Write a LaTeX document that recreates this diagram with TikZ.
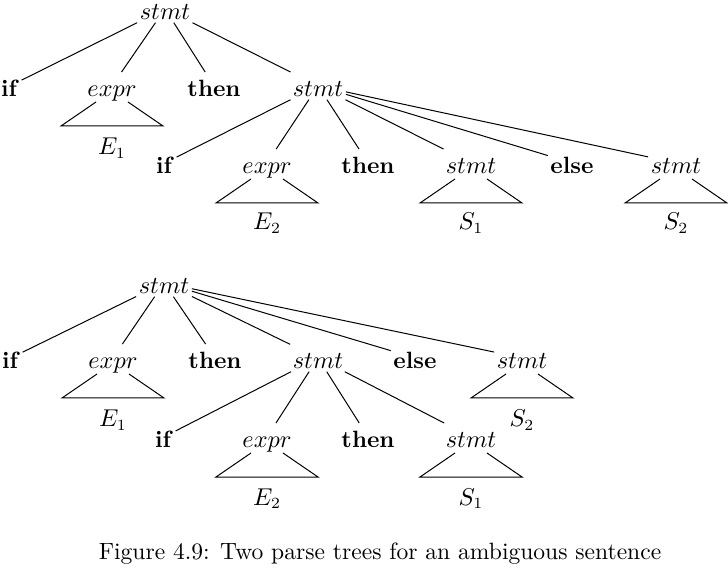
\documentclass[tikz,border=0pt]{standalone}
\usetikzlibrary{calc}
\newcommand\mytri[1]{\draw ($(#1.base)+(-16,5)$) -- ($(#1.base)+(-51,29)$) -- ($(#1.base)+(51,29)$) -- ($(#1.base)+(16,5)$);}
\begin{document}
\begin{tikzpicture}[x=0.45pt,y=-0.45pt, line width=0.45pt,
  every node/.style={font=\fontsize{10.6pt}{13pt}\selectfont},
  lab/.style={anchor=base, inner xsep=1pt, inner ysep=1pt, text height=10pt, text depth=0pt},
  sub/.style={anchor=base, inner sep=1pt}]
\useasboundingbox (0,0) rectangle (728,573);
% ---------- tree 1 ----------
\node[lab] (r1) at (165,20) {$stmt$};
\node[lab] (a1) at (10,97) {\textbf{if}};
\node[lab] (b1) at (112,97) {$expr$};
\node[lab] (c1) at (214,97) {\textbf{then}};
\node[lab] (d1) at (318,97) {$stmt$};
\node[lab] (a2) at (165,174) {\textbf{if}};
\node[lab] (b2) at (267,174) {$expr$};
\node[lab] (c2) at (368,174) {\textbf{then}};
\node[lab] (d2) at (471,174) {$stmt$};
\node[lab] (e2) at (572,174) {\textbf{else}};
\node[lab] (f2) at (676,174) {$stmt$};
\foreach \c in {a1,b1,c1,d1} \draw (r1) -- (\c);
\foreach \c in {a2,b2,c2,d2,e2,f2} \draw (d1) -- (\c);
\mytri{b1} \mytri{b2} \mytri{d2} \mytri{f2}
\node[sub] (tb1) at ($(b1.base)+(0,58)$) {$E_1$};
\node[sub] (tb2) at ($(b2.base)+(0,56)$) {$E_2$};
\node[sub] (td2) at ($(d2.base)+(0,56)$) {$S_1$};
\node[sub] (tf2) at ($(f2.base)+(0,56)$) {$S_2$};
% ---------- tree 2 ----------
\node[lab] (R) at (164,294) {$stmt$};
\node[lab] (A) at (11,369) {\textbf{if}};
\node[lab] (B) at (113,369) {$expr$};
\node[lab] (C) at (215,369) {\textbf{then}};
\node[lab] (D) at (318,369) {$stmt$};
\node[lab] (E) at (415,369) {\textbf{else}};
\node[lab] (F) at (522,369) {$stmt$};
\node[lab] (G) at (164,448) {\textbf{if}};
\node[lab] (H) at (267,448) {$expr$};
\node[lab] (I) at (368,448) {\textbf{then}};
\node[lab] (J) at (471,448) {$stmt$};
\foreach \c in {A,B,C,D,E,F} \draw (R) -- (\c);
\foreach \c in {G,H,I,J} \draw (D) -- (\c);
\mytri{B} \mytri{F} \mytri{H} \mytri{J}
\node[sub] (tB) at ($(B.base)+(0,58)$) {$E_1$};
\node[sub] (tF) at ($(F.base)+(0,58)$) {$S_2$};
\node[sub] (tH) at ($(H.base)+(0,57)$) {$E_2$};
\node[sub] (tJ) at ($(J.base)+(0,57)$) {$S_1$};
% ---------- caption ----------
\node[sub] (cap) at (380,559) {Figure 4.9: Two parse trees for an ambiguous sentence};
\end{tikzpicture}
\end{document}
